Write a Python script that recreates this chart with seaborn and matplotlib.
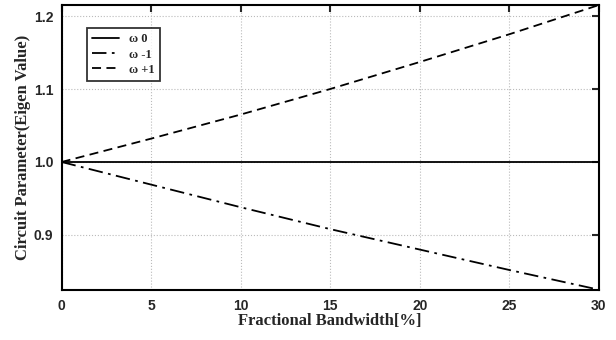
import matplotlib
matplotlib.use("Agg")
import matplotlib.pyplot as plt
import seaborn as sns
import pandas as pd

bandwidth = [0, 5, 10, 15, 20, 25, 30]
omega0 = [1.0, 1.0, 1.0, 1.0, 1.0, 1.0, 1.0]
omega_m1 = [1.0, 0.969, 0.938, 0.908, 0.880, 0.852, 0.825]
omega_p1 = [1.0, 1.032, 1.065, 1.100, 1.137, 1.175, 1.215]
labels = ["\u03c9 0", "\u03c9 -1", "\u03c9 +1"]

sns.set_style("white")
fig, ax = plt.subplots(figsize=(6.16, 3.40), dpi=100)
fig.subplots_adjust(left=0.1, right=0.972, top=0.985, bottom=0.148)

styles = ["-", (0, (8, 3, 1.5, 3)), (0, (5, 3))]
for vals, lab, ls in zip([omega0, omega_m1, omega_p1], labels, styles):
    df = pd.DataFrame({"x": bandwidth, "y": vals})
    sns.lineplot(data=df, x="x", y="y", ax=ax, color="black", linestyle=ls,
                 linewidth=1.3, label=lab)

ax.set_xlim(0, 30)
ax.set_ylim(0.825, 1.215)
ax.set_xticks([0, 5, 10, 15, 20, 25, 30])
ax.set_yticks([0.9, 1.0, 1.1, 1.2])
ax.set_yticklabels(["0.9", "1.0", "1.1", "1.2"])
ax.grid(True, color="#bbbbbb", linestyle=":", linewidth=0.8)
ax.tick_params(direction="in", length=5, width=1.5, top=True, right=True,
               labelsize=10)
ax.tick_params(axis="x", pad=7)
ax.tick_params(axis="y", pad=6)
for lab in ax.get_xticklabels() + ax.get_yticklabels():
    lab.set_fontfamily("Liberation Sans")
    lab.set_fontweight("bold")
for s in ax.spines.values():
    s.set_linewidth(1.5)
    s.set_color("black")

ax.set_xlabel("Fractional Bandwidth[%]", fontfamily="Liberation Serif",
              fontweight="bold", fontsize=12, labelpad=0)
ax.set_ylabel("Circuit Parameter(Eigen Value)", fontfamily="Liberation Serif",
              fontweight="bold", fontsize=12, labelpad=2)

leg = ax.legend(loc="upper left", bbox_to_anchor=(0.035, 0.94), frameon=True,
                fancybox=False, edgecolor="black", handlelength=2.2,
                prop={"family": "Liberation Serif", "weight": "bold", "size": 9},
                borderpad=0.4, labelspacing=0.25)
leg.get_frame().set_linewidth(1.3)

fig.savefig("out.png", dpi=100)
